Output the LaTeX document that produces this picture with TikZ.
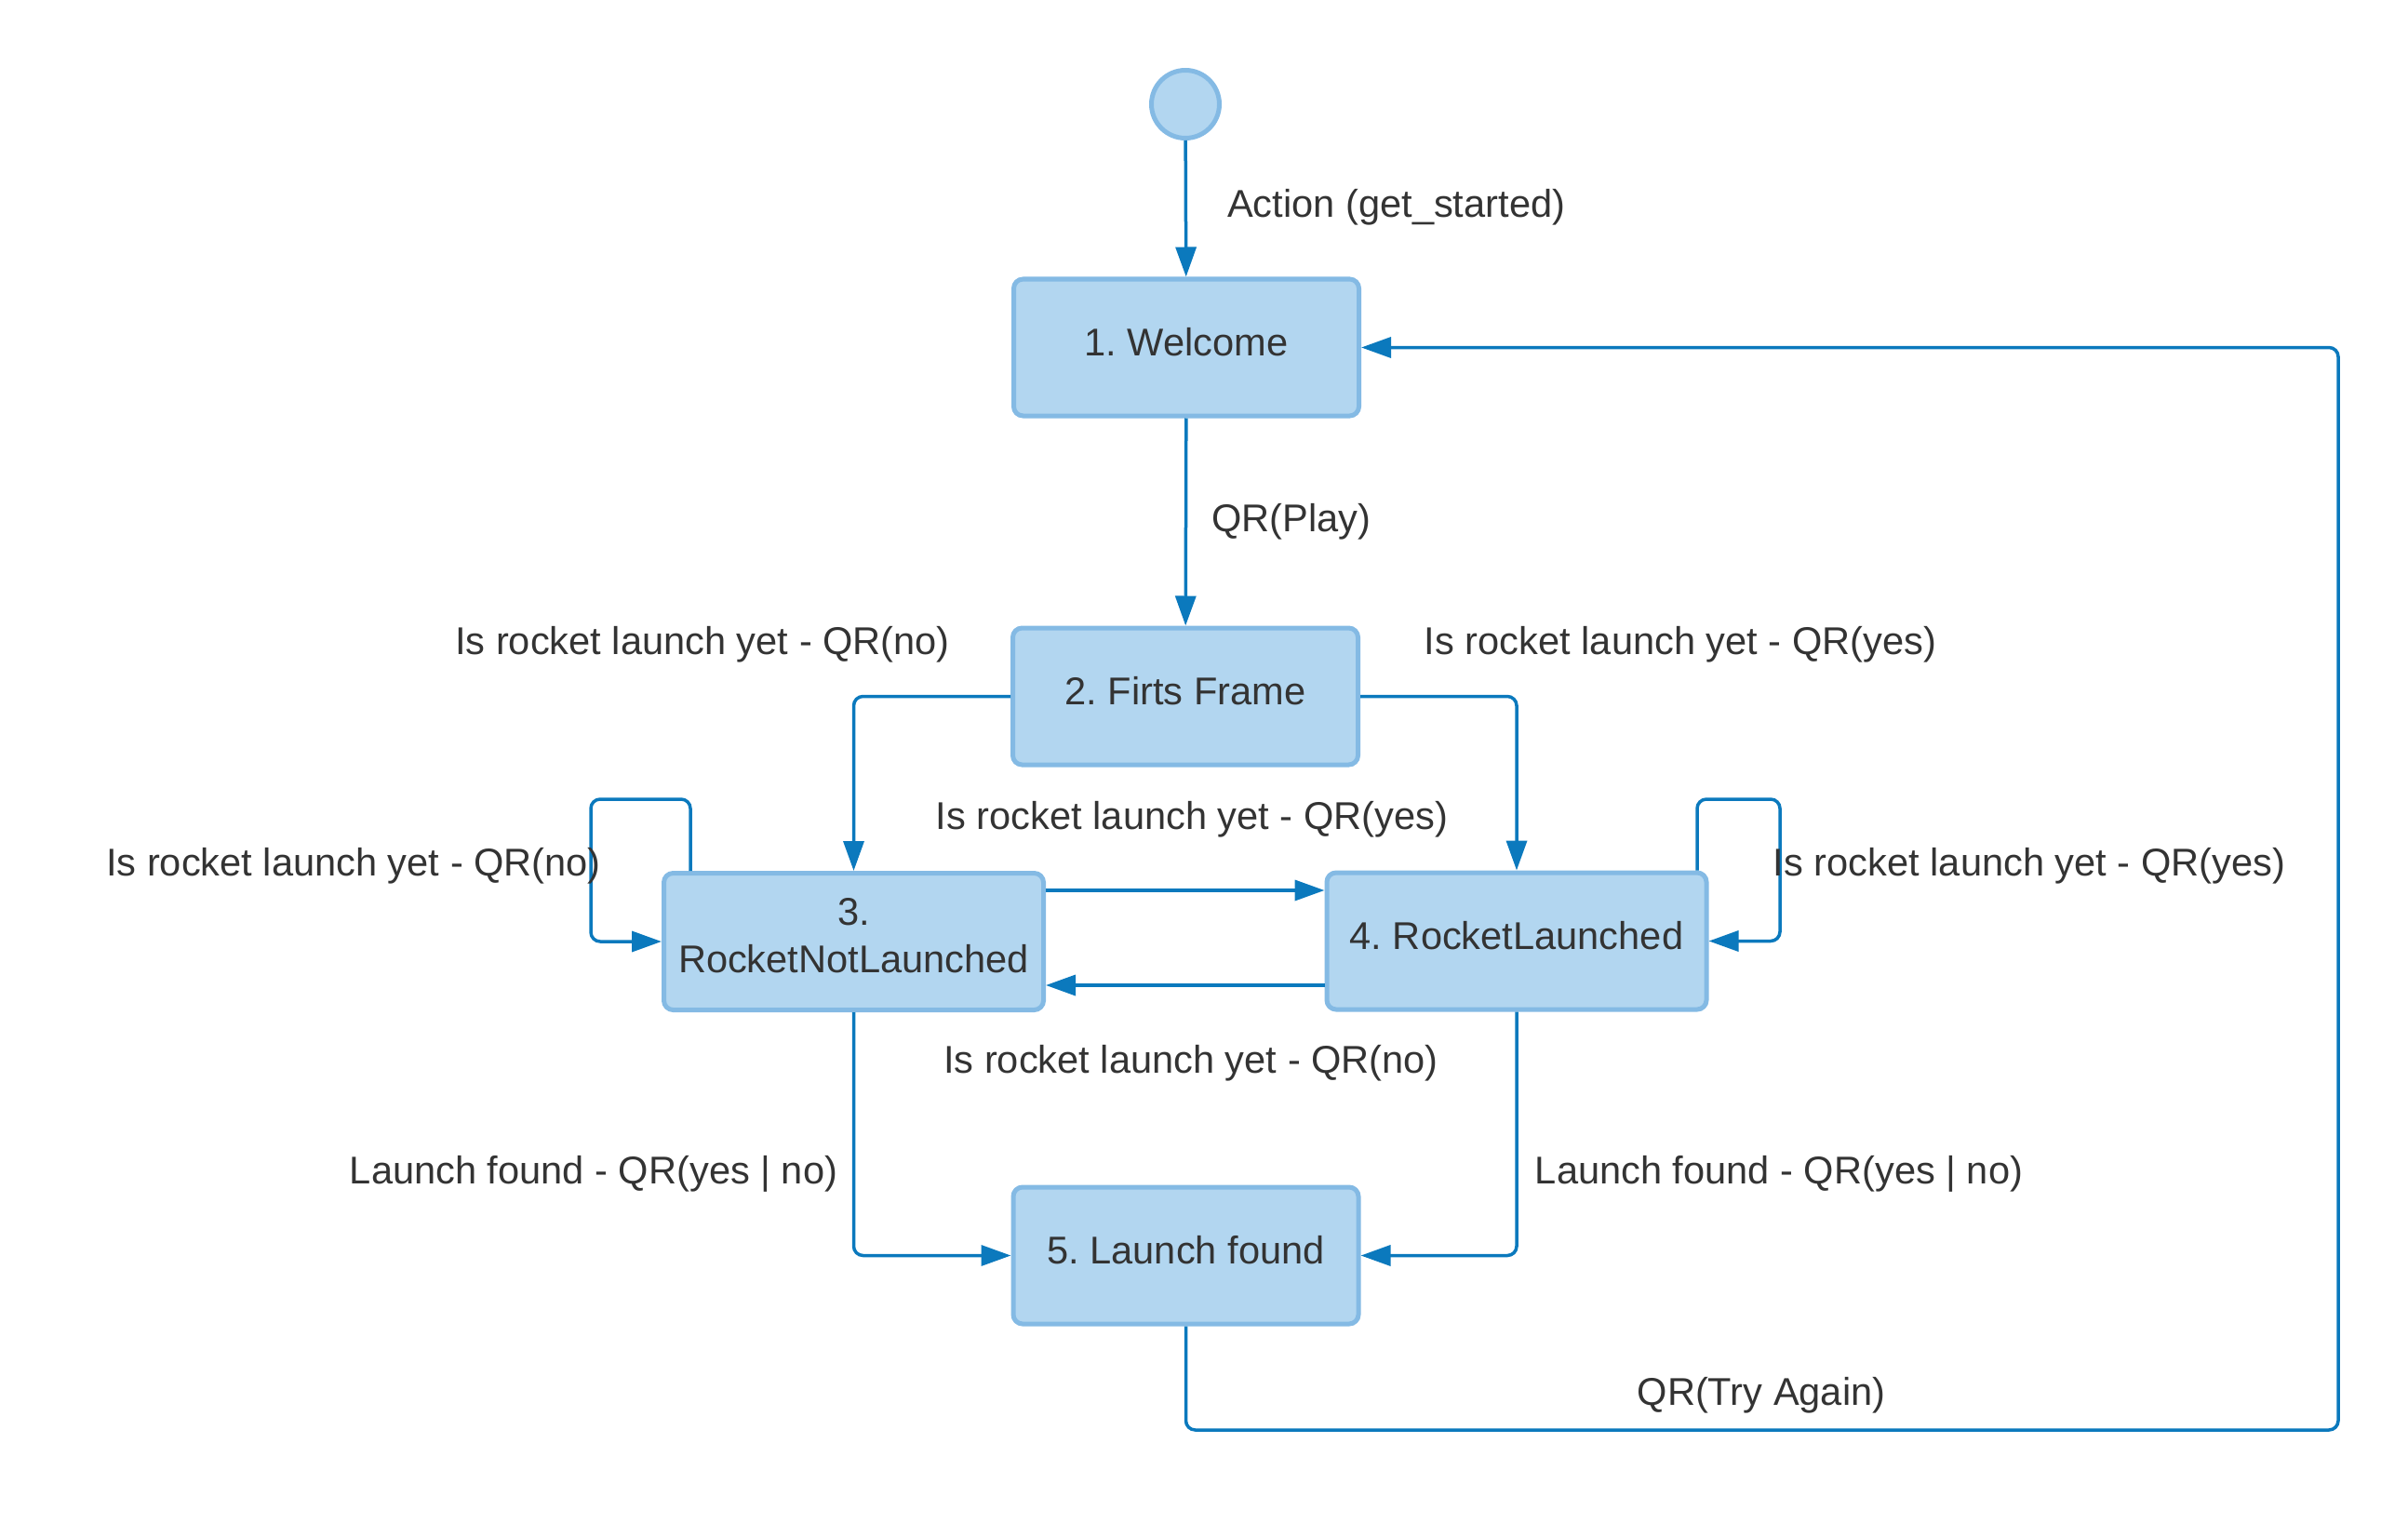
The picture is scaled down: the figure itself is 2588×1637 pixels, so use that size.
\documentclass[tikz,border=0pt]{standalone}
\usepackage{fontspec}
\setmainfont{Liberation Sans}
\usetikzlibrary{arrows.meta,calc}
\definecolor{boxfill}{HTML}{B2D6F0}
\definecolor{boxline}{HTML}{84BAE4}
\definecolor{conncol}{HTML}{0B79BD}
\definecolor{txt}{HTML}{333333}
\frenchspacing
\begin{document}
\begin{tikzpicture}[x=1pt,y=-1pt,
  every node/.style={text=txt,font=\fontsize{41.6}{51}\selectfont\frenchspacing},
  statebox/.style={draw=boxline,fill=boxfill,line width=5pt,rounded corners=10pt,
    minimum width=371pt,minimum height=147pt,inner sep=0pt,align=center,text depth=13pt},
  widebox/.style={statebox,minimum width=408pt},
  startnode/.style={circle,draw=boxline,fill=boxfill,line width=5pt,minimum size=73pt,inner sep=0pt},
  conn/.style={draw=conncol,line width=3.5pt,rounded corners=10pt,
    -{Triangle[length=32pt,width=22pt]}},
  lbl/.style={inner sep=0pt}
]
\useasboundingbox (0,0) rectangle (2588,1637);

\node[startnode] (start) at (1274,112) {};
\node[statebox] (welcome) at (1275,373.5) {1. Welcome};
\node[statebox] (first) at (1274,748.5) {2. Firts Frame};
\node[widebox] (s3) at (917.5,1012) {3.\\RocketNotLaunched};
\node[widebox] (s4) at (1630,1011.5) {4. RocketLaunched};
\node[statebox] (s5) at (1274.5,1349.5) {5. Launch found};

\coordinate (l3a) at (742,859);
\coordinate (l3b) at (635,859);
\coordinate (l3c) at (635,1012);
\coordinate (l4a) at (1824,859);
\coordinate (l4b) at (1913,859);
\coordinate (l4c) at (1913,1011.5);
\coordinate (ret1) at (2513,1537);

\draw[conn] (start) -- (welcome);
\draw[conn] (welcome) -- (first);
\draw[conn] (first.west) -| (s3.north);
\draw[conn] (first.east) -| (s4.north);
\draw[conn] (s3.east |- 0,957) -- (s4.west |- 0,957);
\draw[conn] (s4.west |- 0,1059) -- (s3.east |- 0,1059);
\draw[conn] (s3.north -| l3a) -- (l3a) -- (l3b) -- (l3c) -- (s3.west);
\draw[conn] (s4.north -| l4a) -- (l4a) -- (l4b) -- (l4c) -- (s4.east);
\draw[conn] (s3.south) |- (s5.west);
\draw[conn] (s4.south) |- (s5.east);
\draw[conn] (s5.south) |- (ret1) |- (welcome.east);

\node[lbl,anchor=west] (t1) at (1319,223) {Action (get\_started)};
\node[lbl,anchor=west] (t2) at (1302,561) {QR(Play)};
\node[lbl] (t3) at (755,693) {Is rocket launch yet - QR(no)};
\node[lbl] (t4) at (1806,693) {Is rocket launch yet - QR(yes)};
\node[lbl] (t5) at (1281,881) {Is rocket launch yet - QR(yes)};
\node[lbl] (t6) at (380,931) {Is rocket launch yet - QR(no)};
\node[lbl] (t7) at (2181,931) {Is rocket launch yet - QR(yes)};
\node[lbl] (t8) at (1280,1143) {Is rocket launch yet - QR(no)};
\node[lbl] (t9) at (638,1262) {Launch found - QR(yes | no)};
\node[lbl] (t10) at (1912,1262) {Launch found - QR(yes | no)};
\node[lbl] (t11) at (1893,1500) {QR(Try Again)};
\end{tikzpicture}
\end{document}
